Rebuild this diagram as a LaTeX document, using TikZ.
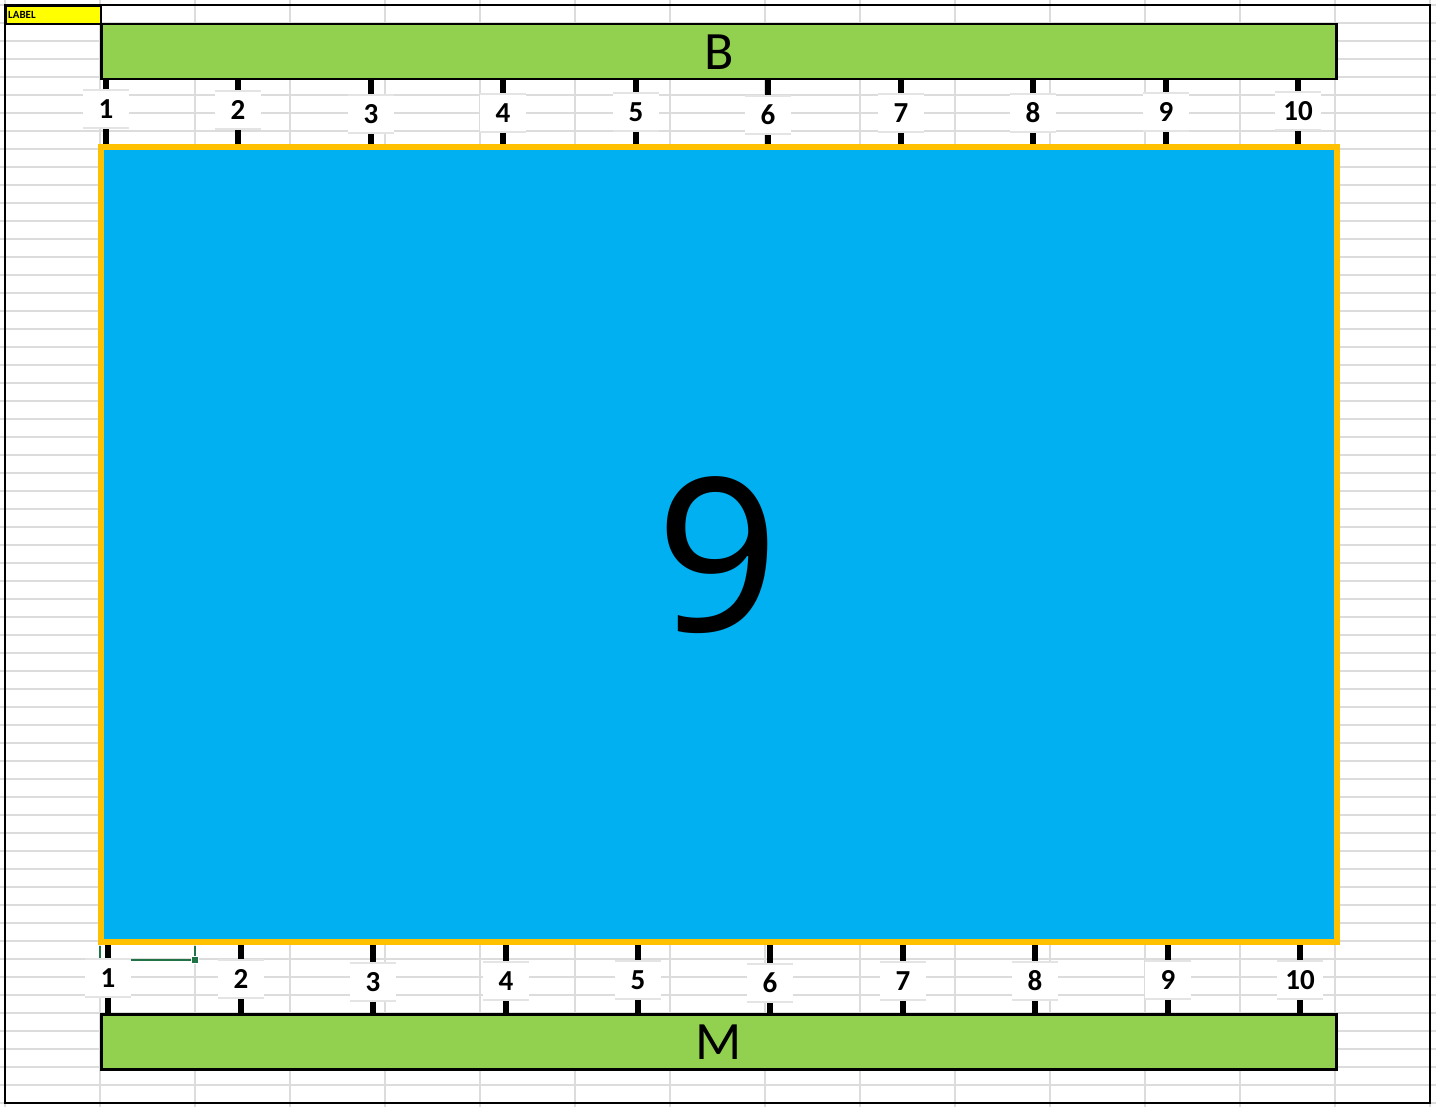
\documentclass[tikz,border=0pt]{standalone}
\usepackage{fontspec}
\setmainfont{Carlito}
\newfontfamily\ninefont{Noto Sans}
\definecolor{barGreen}{HTML}{92D050}
\definecolor{boxBlue}{HTML}{00B0F0}
\definecolor{boxOrange}{HTML}{FFC000}
\definecolor{cellYellow}{HTML}{FFFF00}
\definecolor{gridGray}{HTML}{DCDCDC}
\definecolor{lblGray}{HTML}{E4E4E4}
\definecolor{selGreen}{HTML}{217346}
\tikzset{
  gridline/.style={draw=gridGray, line width=1.2},
  bar/.style={draw=black, line width=2.5, fill=barGreen, inner sep=0, minimum width=1235, minimum height=55, font=\fontsize{54}{54}\selectfont},
  conn/.style={draw=black, line width=6},
  numlbl/.style={fill=white, inner sep=0, minimum width=46, minimum height=38, font=\fontsize{29}{29}\selectfont\bfseries},
  lblline/.style={draw=lblGray, line width=1.8},
}
\begin{document}
\begin{tikzpicture}[x=1pt,y=-1pt]
\useasboundingbox (0,0) rectangle (1436,1107);
\fill[white] (0,0) rectangle (1436,1107);
% spreadsheet grid
\foreach \i in {0,...,15} \draw[gridline] ({5+95*\i},0) -- ({5+95*\i},1107);
\foreach \j in {0,...,61} \draw[gridline] (0,{5+18*\j}) -- (1436,{5+18*\j});
% outer border
\draw[line width=2.5] (5,5) rectangle (1430,1103);
% LABEL cell
\node (lab) [draw=black, line width=2, fill=cellYellow, inner sep=0, minimum width=95, minimum height=18, anchor=north west] at (5,5) {};
\node (labtxt) [anchor=west, inner sep=0, font=\fontsize{11}{11}\selectfont\bfseries] at (8,15) {LABEL};
% bars
\node (B) [bar, anchor=north west] at (100,23) {B};
\node (M) [bar, anchor=north west] at (100,1013) {M};
% main rectangle
\node (R) [draw=boxOrange, line width=6, fill=boxBlue, inner sep=0, minimum width=1236, minimum height=795] at (719,544.5) {};
\node (nine) [inner sep=0, font=\ninefont\fontsize{214}{214}\selectfont] at (718,555) {9};
% selection marker
\draw[selGreen, line width=1.6] (100,946) -- (100,960) -- (195,960) -- (195,946);
\fill[selGreen, draw=white, line width=0.8] (191.5,956.5) rectangle (198.5,963.5);
% top connectors
\foreach \x/\ly [count=\i] in {106/109,238/110,371/114,503/113,636/112,768/115,901/113,1033/113,1166/112,1298/111} {
  \coordinate (bt\i) at (\x,78);
  \coordinate (rt\i) at (\x,144);
  \draw[conn] (bt\i) -- (rt\i);
  \node[numlbl] (lt\i) at (\x,\ly) {\i};
  \draw[lblline] (lt\i.north west) -- (lt\i.north east);
  \draw[lblline] (lt\i.south west) -- (lt\i.south east);
}
% bottom connectors
\foreach \x/\ly [count=\i] in {108/978,241/979,373/982,506/981,638/980,770/983,903/981,1035/981,1168/980,1300/980} {
  \coordinate (rb\i) at (\x,945);
  \coordinate (bb\i) at (\x,1013);
  \draw[conn] (rb\i) -- (bb\i);
  \node[numlbl] (lb\i) at (\x,\ly) {\i};
  \draw[lblline] (lb\i.north west) -- (lb\i.north east);
  \draw[lblline] (lb\i.south west) -- (lb\i.south east);
}
\end{tikzpicture}
\end{document}
